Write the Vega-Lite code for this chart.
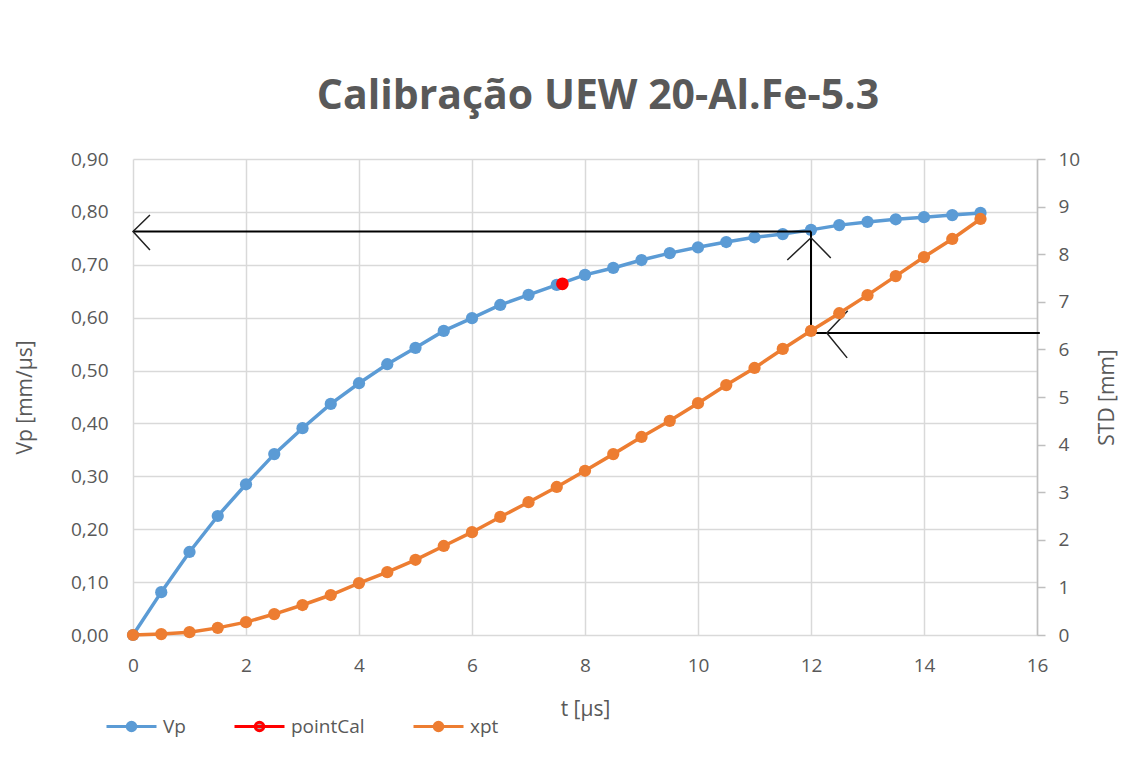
{
  "$schema": "https://vega.github.io/schema/vega-lite/v6.json",
  "width": 904,
  "height": 476,
  "autosize": {"type": "none"},
  "padding": {"left": 133, "top": 159, "right": 86, "bottom": 130},
  "background": "white",
  "config": {
    "view": {"stroke": null},
    "font": "Open Sans",
    "axis": {"labelColor": "#595959", "titleColor": "#595959", "labelFontSize": 19, "titleFontSize": 21, "titleFontWeight": "normal", "gridColor": "#D9D9D9", "gridWidth": 1.5, "domainColor": "#BFBFBF", "tickColor": "#BFBFBF"},
    "legend": {
      "orient": "none", "legendX": -28, "legendY": 541, "direction": "horizontal", "title": null,
      "symbolType": "M-1,0H1M0.17,0A0.17,0.17,0,1,1,-0.17,0A0.17,0.17,0,1,1,0.17,0Z",
      "symbolSize": 2500, "symbolStrokeWidth": 3, "labelFontSize": 19, "labelColor": "#595959",
      "columnPadding": 42, "labelOffset": 5, "gridAlign": "none"
    }
  },
  "title": {"text": "Calibração UEW 20-Al.Fe-5.3", "fontSize": 41, "fontWeight": "bold", "color": "#595959", "anchor": "middle", "offset": 32, "dx": 13},
  "datasets": {
    "vp": [
      {"t": 0, "value": 0, "series": "Vp"},
      {"t": 0.5, "value": 0.081, "series": "Vp"},
      {"t": 1, "value": 0.157, "series": "Vp"},
      {"t": 1.5, "value": 0.225, "series": "Vp"},
      {"t": 2, "value": 0.285, "series": "Vp"},
      {"t": 2.5, "value": 0.342, "series": "Vp"},
      {"t": 3, "value": 0.391, "series": "Vp"},
      {"t": 3.5, "value": 0.437, "series": "Vp"},
      {"t": 4, "value": 0.476, "series": "Vp"},
      {"t": 4.5, "value": 0.512, "series": "Vp"},
      {"t": 5, "value": 0.543, "series": "Vp"},
      {"t": 5.5, "value": 0.575, "series": "Vp"},
      {"t": 6, "value": 0.599, "series": "Vp"},
      {"t": 6.5, "value": 0.624, "series": "Vp"},
      {"t": 7, "value": 0.643, "series": "Vp"},
      {"t": 7.5, "value": 0.662, "series": "Vp"},
      {"t": 8, "value": 0.681, "series": "Vp"},
      {"t": 8.5, "value": 0.694, "series": "Vp"},
      {"t": 9, "value": 0.709, "series": "Vp"},
      {"t": 9.5, "value": 0.722, "series": "Vp"},
      {"t": 10, "value": 0.733, "series": "Vp"},
      {"t": 10.5, "value": 0.743, "series": "Vp"},
      {"t": 11, "value": 0.752, "series": "Vp"},
      {"t": 11.5, "value": 0.758, "series": "Vp"},
      {"t": 12, "value": 0.766, "series": "Vp"},
      {"t": 12.5, "value": 0.775, "series": "Vp"},
      {"t": 13, "value": 0.781, "series": "Vp"},
      {"t": 13.5, "value": 0.786, "series": "Vp"},
      {"t": 14, "value": 0.790, "series": "Vp"},
      {"t": 14.5, "value": 0.794, "series": "Vp"},
      {"t": 15, "value": 0.798, "series": "Vp"}
    ],
    "cal": [{"t": 7.6, "value": 0.664, "series": "pointCal"}],
    "xpt": [
      {"t": 0, "value": 0, "series": "xpt"},
      {"t": 0.5, "value": 0.02, "series": "xpt"},
      {"t": 1, "value": 0.06, "series": "xpt"},
      {"t": 1.5, "value": 0.15, "series": "xpt"},
      {"t": 2, "value": 0.27, "series": "xpt"},
      {"t": 2.5, "value": 0.44, "series": "xpt"},
      {"t": 3, "value": 0.63, "series": "xpt"},
      {"t": 3.5, "value": 0.84, "series": "xpt"},
      {"t": 4, "value": 1.09, "series": "xpt"},
      {"t": 4.5, "value": 1.32, "series": "xpt"},
      {"t": 5, "value": 1.58, "series": "xpt"},
      {"t": 5.5, "value": 1.87, "series": "xpt"},
      {"t": 6, "value": 2.16, "series": "xpt"},
      {"t": 6.5, "value": 2.48, "series": "xpt"},
      {"t": 7, "value": 2.79, "series": "xpt"},
      {"t": 7.5, "value": 3.11, "series": "xpt"},
      {"t": 8, "value": 3.45, "series": "xpt"},
      {"t": 8.5, "value": 3.80, "series": "xpt"},
      {"t": 9, "value": 4.16, "series": "xpt"},
      {"t": 9.5, "value": 4.50, "series": "xpt"},
      {"t": 10, "value": 4.87, "series": "xpt"},
      {"t": 10.5, "value": 5.25, "series": "xpt"},
      {"t": 11, "value": 5.61, "series": "xpt"},
      {"t": 11.5, "value": 6.01, "series": "xpt"},
      {"t": 12, "value": 6.39, "series": "xpt"},
      {"t": 12.5, "value": 6.76, "series": "xpt"},
      {"t": 13, "value": 7.14, "series": "xpt"},
      {"t": 13.5, "value": 7.54, "series": "xpt"},
      {"t": 14, "value": 7.94, "series": "xpt"},
      {"t": 14.5, "value": 8.32, "series": "xpt"},
      {"t": 15, "value": 8.74, "series": "xpt"}
    ],
    "arrowLines": [
      {"seg": "h1", "i": 1, "t": 0, "vp": 0.763},
      {"seg": "h1", "i": 2, "t": 12, "vp": 0.763},
      {"seg": "v", "i": 1, "t": 12, "vp": 0.763},
      {"seg": "v", "i": 2, "t": 12, "vp": 0.571},
      {"seg": "h2", "i": 1, "t": 12, "vp": 0.571},
      {"seg": "h2", "i": 2, "t": 16.05, "vp": 0.571}
    ],
    "arrowHeads": [
      {"seg": "a1", "i": 1, "t": 0.30, "vp": 0.794},
      {"seg": "a1", "i": 2, "t": 0, "vp": 0.763},
      {"seg": "a1", "i": 3, "t": 0.30, "vp": 0.728},
      {"seg": "a2", "i": 1, "t": 11.58, "vp": 0.709},
      {"seg": "a2", "i": 2, "t": 12, "vp": 0.751},
      {"seg": "a2", "i": 3, "t": 12.35, "vp": 0.713},
      {"seg": "a3", "i": 1, "t": 12.65, "vp": 0.613},
      {"seg": "a3", "i": 2, "t": 12.28, "vp": 0.571},
      {"seg": "a3", "i": 3, "t": 12.64, "vp": 0.524}
    ]
  },
  "encoding": {
    "x": {"field": "t", "type": "quantitative", "scale": {"domain": [0, 16], "nice": false},
      "axis": {"title": "t [µs]", "values": [0, 2, 4, 6, 8, 10, 12, 14, 16], "domain": false, "ticks": false, "labelPadding": 21, "titlePadding": 23, "labelFlush": false}}
  },
  "layer": [
    {
      "encoding": {
        "y": {"type": "quantitative", "scale": {"domain": [0, 0.9], "nice": false}}
      },
      "layer": [
        {
          "data": {"name": "vp"},
          "mark": {"type": "line", "strokeWidth": 3.5},
          "encoding": {
            "y": {"field": "value", "type": "quantitative",
              "axis": {"title": "Vp [mm/µs]", "values": [0, 0.1, 0.2, 0.3, 0.4, 0.5, 0.6, 0.7, 0.8, 0.9], "labelExpr": "replace(format(datum.value, '.2f'), '.', ',')", "domain": false, "ticks": false, "labelPadding": 25, "titlePadding": 35}},
            "stroke": {"field": "series", "type": "nominal",
              "scale": {"domain": ["Vp", "pointCal", "xpt"], "range": ["#5B9BD5", "#FF0000", "#ED7D31"]}}
          }
        },
        {
          "data": {"name": "vp"},
          "mark": {"type": "point", "filled": true, "size": 150, "opacity": 1},
          "encoding": {
            "y": {"field": "value", "type": "quantitative"},
            "fill": {"field": "series", "type": "nominal",
              "scale": {"domain": ["Vp", "pointCal", "xpt"], "range": ["#5B9BD5", "#A5A5A5", "#ED7D31"]}}
          }
        },
        {
          "data": {"name": "cal"},
          "mark": {"type": "point", "filled": true, "size": 160, "opacity": 1, "color": "#FF0000"},
          "encoding": {
            "y": {"field": "value", "type": "quantitative"}
          }
        },
        {
          "data": {"name": "arrowLines"},
          "mark": {"type": "line", "color": "black", "strokeWidth": 2},
          "encoding": {
            "y": {"field": "vp", "type": "quantitative"},
            "detail": {"field": "seg"},
            "order": {"field": "i"}
          }
        },
        {
          "data": {"name": "arrowHeads"},
          "mark": {"type": "line", "color": "#222222", "strokeWidth": 1.5},
          "encoding": {
            "y": {"field": "vp", "type": "quantitative"},
            "detail": {"field": "seg"},
            "order": {"field": "i"}
          }
        }
      ]
    },
    {
      "encoding": {
        "y": {"type": "quantitative", "scale": {"domain": [0, 10], "nice": false}}
      },
      "layer": [
        {
          "data": {"name": "xpt"},
          "mark": {"type": "line", "strokeWidth": 3.5},
          "encoding": {
            "y": {"field": "value", "type": "quantitative",
              "axis": {"orient": "right", "title": "STD [mm]", "titleAngle": -90, "values": [0, 1, 2, 3, 4, 5, 6, 7, 8, 9, 10], "grid": false, "domain": true, "domainWidth": 1.5, "ticks": true, "tickSize": 8, "tickWidth": 1.5, "labelPadding": 13, "titlePadding": 38}},
            "stroke": {"field": "series", "type": "nominal"}
          }
        },
        {
          "data": {"name": "xpt"},
          "mark": {"type": "point", "filled": true, "size": 150, "opacity": 1},
          "encoding": {
            "y": {"field": "value", "type": "quantitative"},
            "fill": {"field": "series", "type": "nominal"}
          }
        }
      ]
    }
  ],
  "resolve": {"scale": {"y": "independent"}}
}
